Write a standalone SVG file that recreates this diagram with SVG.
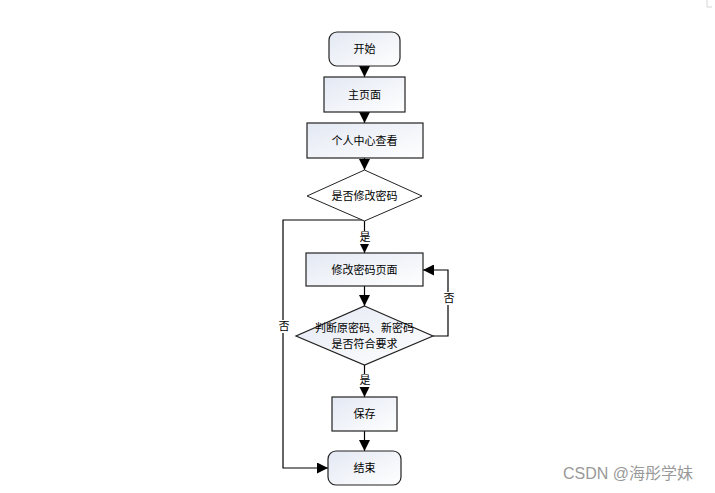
<svg xmlns="http://www.w3.org/2000/svg" width="715" height="493" viewBox="0 0 715 493">
<style>
.n{stroke:#222;stroke-width:1.2;fill:url(#g)}
.d{stroke:#222;stroke-width:1;fill:#fff}
.t{font-family:"Liberation Sans","Noto Sans CJK SC",sans-serif;font-size:11px;fill:#000;text-anchor:middle;dominant-baseline:central}
.c{stroke:#000;stroke-width:1.2;fill:none}
</style>
<defs>
<linearGradient id="g" x1="0" y1="0" x2="1" y2="1">
<stop offset="0" stop-color="#e3e8f3"/>
<stop offset="1" stop-color="#ffffff"/>
</linearGradient>
<marker id="a" viewBox="0 0 10 10" refX="10" refY="5" markerWidth="11" markerHeight="11" markerUnits="userSpaceOnUse" orient="auto">
<path d="M0,0L10,5L0,10z" fill="#000"/>
</marker>
</defs>
<rect width="715" height="493" fill="#fff"/>
<path d="M707,0V7H712" stroke="#ccc" stroke-width="0.8" fill="none"/>
<g id="connectors">
<line class="c" x1="364.5" y1="66" x2="364.5" y2="77" marker-end="url(#a)"/>
<line class="c" x1="364.5" y1="112" x2="364.5" y2="123" marker-end="url(#a)"/>
<line class="c" x1="364.5" y1="158" x2="364.5" y2="170" marker-end="url(#a)"/>
<line class="c" x1="364.5" y1="221" x2="364.5" y2="253" marker-end="url(#a)"/>
<rect x="357" y="231" width="15" height="13" fill="#fff"/>
<text class="t" x="365" y="237">是</text>
<line class="c" x1="364.5" y1="286" x2="364.5" y2="306" marker-end="url(#a)"/>
<polyline class="c" points="433,336 448,336 448,270 423,270" marker-end="url(#a)"/>
<rect x="442" y="292" width="14" height="13" fill="#fff"/>
<text class="t" x="449" y="298">否</text>
<line class="c" x1="364.5" y1="365" x2="364.5" y2="397" marker-end="url(#a)"/>
<rect x="357" y="374" width="15" height="13" fill="#fff"/>
<text class="t" x="365" y="380">是</text>
<line class="c" x1="364.5" y1="431" x2="364.5" y2="451" marker-end="url(#a)"/>
<polyline class="c" points="364.5,220 283,220 283,468 328,468" marker-end="url(#a)"/>
<rect x="277" y="320" width="14" height="13" fill="#fff"/>
<text class="t" x="284" y="326">否</text>
</g>
<g id="start">
<rect class="n" x="329" y="32" width="71" height="34" rx="8"/>
<text class="t" x="364.5" y="49">开始</text>
</g>
<g id="main">
<rect class="n" x="324" y="77" width="81" height="35"/>
<text class="t" x="364.5" y="95">主页面</text>
</g>
<g id="personal">
<rect class="n" x="307" y="123" width="116" height="35"/>
<text class="t" x="364.5" y="141">个人中心查看</text>
</g>
<g id="decide1">
<polygon class="d" points="364.5,170 422,196 364.5,221 307,196"/>
<text class="t" x="364.5" y="196">是否修改密码</text>
</g>
<g id="modify">
<rect class="n" x="306" y="253" width="117" height="33"/>
<text class="t" x="364.5" y="270">修改密码页面</text>
</g>
<g id="decide2">
<polygon class="n" points="364.5,306 433,336 364.5,365 296,336"/>
<text class="t" x="364.5" y="328">判断原密码、新密码</text>
<text class="t" x="364.5" y="344">是否符合要求</text>
</g>
<g id="save">
<rect class="n" x="332" y="397" width="65" height="34"/>
<text class="t" x="364.5" y="414">保存</text>
</g>
<g id="end">
<rect class="n" x="328" y="451" width="73" height="34" rx="8"/>
<text class="t" x="364.5" y="468">结束</text>
</g>
<text x="563" y="479" font-family="Liberation Sans,'Noto Sans CJK SC',sans-serif" font-size="16" fill="#999">CSDN @海彤学妹</text>
</svg>
